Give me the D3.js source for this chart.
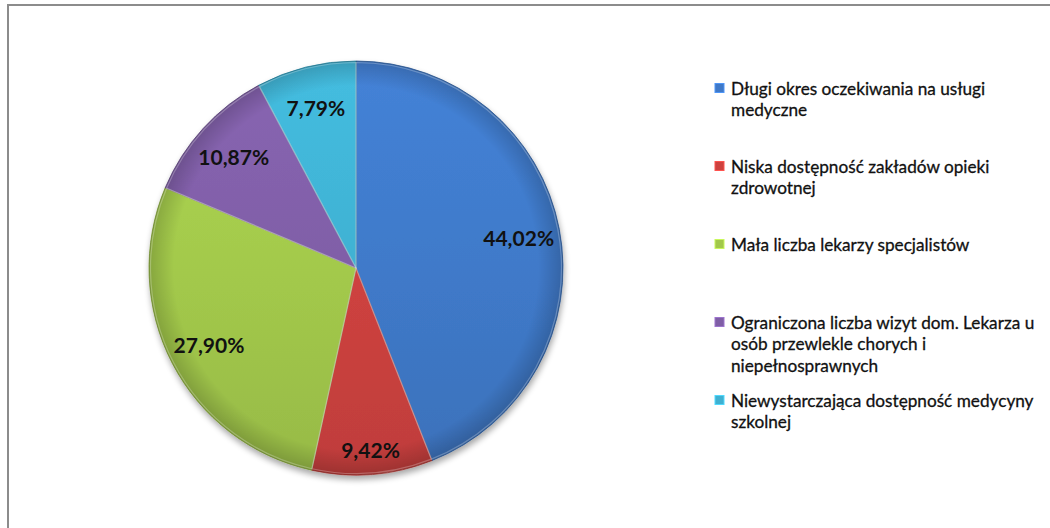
<!DOCTYPE html>
<html>
<head>
<meta charset="utf-8">
<script src="https://cdn.jsdelivr.net/npm/d3@7"></script>
<style>
  body { margin: 0; background: #fff; }
  svg { display: block; }
</style>
</head>
<body>
<svg id="chart" width="1050" height="528"></svg>
<script>
// Reasons given, in percent of answers
const categories = [
  "Długi okres oczekiwania na usługi medyczne",
  "Niska dostępność zakładów opieki zdrowotnej",
  "Mała liczba lekarzy specjalistów",
  "Ograniczona liczba wizyt dom. Lekarza u osób przewlekle chorych i niepełnosprawnych",
  "Niewystarczająca dostępność medycyny szkolnej"
];
const shares = [44.02, 9.42, 27.90, 10.87, 7.79];
const sliceColors = ["#3f79c8", "#cd423f", "#a2c84b", "#7f5ea6", "#3fb0d1"];

const svg = d3.select("#chart");
const W = 1050, H = 528;

// outer frame (only top and left edges fall inside the page)
svg.append("rect")
  .attr("x", 8).attr("y", 5)
  .attr("width", W + 20).attr("height", H + 20)
  .attr("fill", "#fff")
  .attr("stroke", "#8c8c8c").attr("stroke-width", 2);

const cx = 356, cy = 268, R = 207;
const defs = svg.append("defs");

// soft shadow under the pie
const sh = defs.append("filter").attr("id", "pieShadow")
  .attr("x", "-20%").attr("y", "-20%").attr("width", "140%").attr("height", "140%");
sh.append("feGaussianBlur").attr("in", "SourceAlpha").attr("stdDeviation", 3).attr("result", "b");
sh.append("feOffset").attr("in", "b").attr("dx", 1).attr("dy", 4).attr("result", "o");
sh.append("feComponentTransfer").attr("in", "o").attr("result", "s")
  .append("feFuncA").attr("type", "linear").attr("slope", 0.35);
const m = sh.append("feMerge");
m.append("feMergeNode").attr("in", "s");
m.append("feMergeNode").attr("in", "SourceGraphic");

// per-slice vertical shading
sliceColors.forEach((c, i) => {
  const g = defs.append("linearGradient").attr("id", "grad" + i)
    .attr("gradientUnits", "userSpaceOnUse")
    .attr("x1", 0).attr("y1", -R).attr("x2", 0).attr("y2", R);
  g.append("stop").attr("offset", "0%").attr("stop-color", d3.color(c).brighter(0.2));
  g.append("stop").attr("offset", "55%").attr("stop-color", c);
  g.append("stop").attr("offset", "100%").attr("stop-color", d3.color(c).darker(0.2));
});
// darkened rim
const rim = defs.append("radialGradient").attr("id", "rim")
  .attr("gradientUnits", "userSpaceOnUse").attr("cx", 0).attr("cy", 0).attr("r", R);
rim.append("stop").attr("offset", "88%").attr("stop-color", "#000").attr("stop-opacity", 0);
rim.append("stop").attr("offset", "100%").attr("stop-color", "#000").attr("stop-opacity", 0.18);

const pie = d3.pie().sort(null).value(d => d);
const arcs = pie(shares);
const arc = d3.arc().innerRadius(0).outerRadius(R);

const gPie = svg.append("g").attr("transform", `translate(${cx},${cy})`);
const gSlices = gPie.append("g").attr("filter", "url(#pieShadow)");
gSlices.selectAll("path.slice").data(arcs).join("path")
  .attr("class", "slice")
  .attr("d", arc)
  .attr("fill", (d, i) => `url(#grad${i})`)
  .attr("stroke", (d, i) => d3.color(sliceColors[i]).darker(0.8))
  .attr("stroke-width", 0.8)
  .attr("stroke-linejoin", "round");
gPie.append("circle").attr("r", R).attr("fill", "url(#rim)").attr("pointer-events", "none");
// light bevel edge on each slice
gPie.selectAll("path.bevel").data(arcs).join("path")
  .attr("class", "bevel")
  .attr("d", d3.arc().innerRadius(0).outerRadius(R - 1.5))
  .attr("fill", "none")
  .attr("stroke", "#fff").attr("stroke-opacity", 0.25).attr("stroke-width", 1.2);

// percentage labels
const fmt = v => d3.format(".2f")(v).replace(".", ",") + "%";
const labelArc = d3.arc().innerRadius(R * 0.8).outerRadius(R * 0.8);
gPie.selectAll("text.val").data(arcs).join("text")
  .attr("class", "val")
  .attr("transform", d => {
    // a narrow slice pointing down gets its label pushed out so it fits the wedge
    const span = d.endAngle - d.startAngle;
    const k = span < 0.62 && Math.cos((d.startAngle + d.endAngle) / 2) < -0.95 ? 0.88 / 0.8 : 1;
    const [x, y] = labelArc.centroid(d);
    return `translate(${x * k},${y * k})`;
  })
  .attr("text-anchor", "middle")
  .attr("dominant-baseline", "central")
  .attr("font-family", "Lato, 'Open Sans', sans-serif")
  .attr("font-weight", "bold")
  .attr("font-size", 21)
  .attr("fill", "#111")
  .text(d => fmt(d.data));

// legend
const legendX = 715, textX = 731, lineH = 21.5, maxW = 318;
const yEntry = d3.scalePoint().domain(categories).range([88, 400]);
const gLeg = svg.append("g");
categories.forEach((name, i) => {
  const y0 = yEntry(name);
  gLeg.append("rect")
    .attr("x", legendX).attr("y", y0 - 4.5)
    .attr("width", 9).attr("height", 9)
    .attr("fill", sliceColors[i])
    .attr("stroke", d3.color(sliceColors[i]).brighter(0.6)).attr("stroke-width", 1);
  const t = gLeg.append("text")
    .attr("font-family", "Lato, 'Open Sans', sans-serif")
    .attr("font-size", 17.2)
    .attr("fill", "#111")
    .attr("stroke", "#111").attr("stroke-width", 0.3);
  // wrap words into lines no wider than maxW
  const words = name.split(" ");
  let line = [], lineNo = 0;
  let ts = t.append("tspan").attr("x", textX).attr("y", y0).attr("dominant-baseline", "central");
  words.forEach(w => {
    line.push(w);
    ts.text(line.join(" "));
    if (ts.node().getComputedTextLength() > maxW && line.length > 1) {
      line.pop();
      ts.text(line.join(" "));
      line = [w];
      lineNo++;
      ts = t.append("tspan").attr("x", textX).attr("y", y0 + lineNo * lineH)
        .attr("dominant-baseline", "central").text(w);
    }
  });
});
</script>
</body>
</html>
